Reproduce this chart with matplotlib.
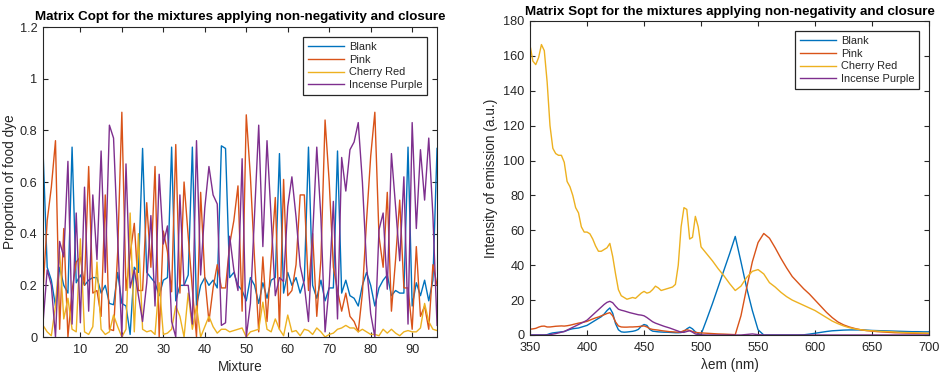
import matplotlib
matplotlib.use("Agg")
import matplotlib.pyplot as plt
import numpy as np

plt.rcParams['font.family'] = ['Liberation Sans', 'DejaVu Sans']

# ---------------- Matrix Copt: proportion of each dye per mixture ----------------
mixture = list(range(1, 97))

blank = [0.72, 0.27, 0.22, 0.12, 0.27, 0.20, 0.17, 0.735, 0.21, 0.24,
         0.20, 0.22, 0.23, 0.23, 0.17, 0.20, 0.13, 0.125, 0.25, 0.13,
         0.12, 0.01, 0.27, 0.25, 0.73, 0.25, 0.23, 0.21, 0.16, 0.22,
         0.23, 0.735, 0.14, 0.20, 0.20, 0.24, 0.735, 0.12, 0.20, 0.23,
         0.20, 0.22, 0.19, 0.74, 0.73, 0.23, 0.25, 0.20, 0.18, 0.14,
         0.23, 0.20, 0.13, 0.21, 0.15, 0.22, 0.23, 0.71, 0.17, 0.25,
         0.20, 0.23, 0.17, 0.22, 0.735, 0.20, 0.15, 0.22, 0.14, 0.19,
         0.19, 0.72, 0.17, 0.22, 0.16, 0.15, 0.12, 0.20, 0.25, 0.20,
         0.12, 0.19, 0.22, 0.24, 0.16, 0.18, 0.17, 0.17, 0.735, 0.12,
         0.21, 0.16, 0.22, 0.14, 0.22, 0.73]

pink = [0.18, 0.45, 0.58, 0.76, 0.03, 0.42, 0.00, 0.18, 0.29, 0.31,
        0.20, 0.66, 0.17, 0.18, 0.08, 0.55, 0.03, 0.025, 0.33, 0.87,
        0.18, 0.32, 0.44, 0.18, 0.18, 0.52, 0.27, 0.66, 0.00, 0.41,
        0.33, 0.175, 0.745, 0.17, 0.60, 0.39, 0.185, 0.00, 0.56, 0.23,
        0.06, 0.19, 0.28, 0.19, 0.19, 0.36, 0.45, 0.585, 0.10, 0.86,
        0.62, 0.30, 0.02, 0.31, 0.06, 0.30, 0.54, 0.03, 0.61, 0.16,
        0.18, 0.28, 0.55, 0.55, 0.18, 0.40, 0.08, 0.30, 0.84, 0.60,
        0.27, 0.18, 0.10, 0.17, 0.08, 0.06, 0.02, 0.17, 0.45, 0.70,
        0.87, 0.39, 0.27, 0.56, 0.10, 0.30, 0.53, 0.19, 0.19, 0.03,
        0.35, 0.08, 0.12, 0.03, 0.28, 0.20]

cherry_red = [0.045, 0.02, 0.005, 0.12, 0.33, 0.07, 0.15, 0.03, 0.02, 0.38,
              0.02, 0.01, 0.04, 0.29, 0.03, 0.01, 0.02, 0.085, 0.04, 0.00,
              0.03, 0.48, 0.02, 0.40, 0.03, 0.02, 0.025, 0.01, 0.21, 0.01,
              0.015, 0.03, 0.12, 0.08, 0.00, 0.17, 0.03, 0.12, 0.00, 0.04,
              0.08, 0.04, 0.015, 0.03, 0.03, 0.02, 0.025, 0.03, 0.035, 0.00,
              0.02, 0.025, 0.03, 0.135, 0.03, 0.02, 0.07, 0.03, 0.005, 0.085,
              0.02, 0.025, 0.005, 0.03, 0.025, 0.01, 0.035, 0.02, 0.00, 0.01,
              0.015, 0.03, 0.035, 0.045, 0.035, 0.035, 0.02, 0.03, 0.02, 0.01,
              0.01, 0.005, 0.03, 0.015, 0.03, 0.015, 0.005, 0.02, 0.025, 0.02,
              0.02, 0.035, 0.13, 0.06, 0.03, 0.025]

incense_purple = [0.055, 0.26, 0.20, 0.00, 0.37, 0.31, 0.68, 0.05, 0.48, 0.055,
                  0.58, 0.10, 0.55, 0.30, 0.72, 0.25, 0.82, 0.77, 0.38, 0.00,
                  0.67, 0.19, 0.26, 0.16, 0.06, 0.21, 0.47, 0.12, 0.63, 0.36,
                  0.43, 0.06, 0.00, 0.55, 0.20, 0.20, 0.05, 0.76, 0.24, 0.50,
                  0.66, 0.55, 0.515, 0.045, 0.055, 0.39, 0.26, 0.18, 0.69, 0.00,
                  0.13, 0.475, 0.82, 0.35, 0.76, 0.46, 0.16, 0.23, 0.215, 0.505,
                  0.62, 0.465, 0.275, 0.20, 0.06, 0.39, 0.735, 0.46, 0.02, 0.20,
                  0.525, 0.07, 0.695, 0.565, 0.725, 0.755, 0.83, 0.60, 0.28, 0.09,
                  0.00, 0.415, 0.48, 0.185, 0.71, 0.505, 0.295, 0.62, 0.05, 0.83,
                  0.42, 0.725, 0.53, 0.77, 0.47, 0.045]

mix_xticks = [10, 20, 30, 40, 50, 60, 70, 80, 90]
prop_yticks = [0, 0.2, 0.4, 0.6, 0.8, 1.0, 1.2]
prop_yticklabels = ['0', '0.2', '0.4', '0.6', '0.8', '1', '1.2']

# ---------------- Matrix Sopt: pure emission spectra ----------------
wavelength = [350, 352.5, 355, 357.5, 360, 362.5, 365, 367.5, 370, 372.5,
              375, 377.5, 380, 382.5, 385, 387.5, 390, 392.5, 395, 397.5,
              400, 402.5, 405, 407.5, 410, 412.5, 415, 417.5, 420, 422.5,
              425, 427.5, 430, 432.5, 435, 437.5, 440, 442.5, 445, 447.5,
              450, 452.5, 455, 457.5, 460, 462.5, 465, 467.5, 470, 472.5,
              475, 477.5, 480, 482.5, 485, 487.5, 490, 492.5, 495, 497.5,
              500, 505, 510, 515, 520, 525, 530, 535, 540, 545,
              550, 555, 560, 565, 570, 575, 580, 585, 590, 595,
              600, 605, 610, 615, 620, 625, 630, 635, 640, 645,
              650, 655, 660, 665, 670, 675, 680, 685, 690, 695, 700]

spec_blank = [0, 0, 0, 0, 0, 0, 0.2, 0.8, 1.2, 1.4,
              1.6, 1.8, 2.0, 2.6, 3.2, 3.6, 3.8, 4.0, 4.5, 5.0,
              5.5, 6.5, 7.5, 8.5, 9.5, 10.5, 12.0, 14.0, 15.5, 12.5,
              6.5, 3.0, 1.8, 1.6, 1.7, 1.9, 2.1, 2.5, 3.2, 5.0,
              6.0, 5.5, 3.2, 2.2, 2.0, 1.8, 1.7, 1.6, 1.6, 1.5,
              1.4, 1.3, 1.3, 1.4, 2.0, 3.5, 4.5, 3.5, 1.8, 0.8,
              0.3, 9.0, 18.0, 27.5, 37.0, 46.5, 56.5, 42.0, 27.0, 14.0,
              3.0, 0, 0, 0, 0, 0, 0, 0, 0.1, 0.5,
              1.0, 1.5, 2.0, 2.4, 2.6, 2.8, 2.9, 2.9, 2.9, 2.8,
              2.6, 2.5, 2.4, 2.3, 2.2, 2.1, 2.0, 1.9, 1.9, 1.8, 1.8]

spec_pink = [3.3, 3.5, 3.8, 4.5, 5.0, 5.1, 4.6, 4.6, 4.8, 5.0,
             5.1, 5.2, 5.1, 5.3, 5.6, 6.0, 6.4, 6.8, 7.1, 7.4,
             7.8, 8.5, 9.2, 9.8, 10.3, 11.0, 11.6, 12.3, 12.8, 11.0,
             7.5, 5.2, 4.6, 4.5, 4.5, 4.6, 4.6, 4.7, 4.8, 5.0,
             5.2, 4.6, 3.6, 3.2, 3.0, 2.8, 2.5, 2.3, 2.1, 1.9,
             1.8, 1.7, 1.6, 1.8, 2.5, 3.0, 2.6, 2.0, 1.5, 1.3,
             1.2, 1.0, 0.8, 0.6, 0.5, 0.35, 0.2, 11.0, 27.0, 42.0,
             53.0, 58.2, 55.5, 50.0, 44.0, 38.5, 33.5, 30.0, 26.5, 23.5,
             20.0, 16.5, 13.0, 10.0, 7.5, 5.8, 4.6, 3.7, 3.0, 2.5,
             2.2, 1.9, 1.7, 1.5, 1.3, 1.2, 1.1, 1.0, 0.9, 0.9, 0.8]

spec_cherry_red = [166.0, 157.0, 155.0, 159.0, 166.5, 163.0, 145.0, 120.0, 107.0, 104.0,
                   103.0, 103.0, 99.0, 88.0, 85.0, 80.0, 73.0, 70.0, 62.0, 59.0,
                   59.0, 58.0, 55.0, 51.0, 48.0, 48.0, 49.0, 50.0, 52.5, 45.0,
                   35.0, 26.0, 22.5, 21.5, 20.5, 21.0, 21.5, 21.0, 22.5, 24.0,
                   25.0, 24.0, 24.5, 26.0, 28.0, 27.0, 25.5, 26.0, 26.5, 27.0,
                   27.5, 29.0, 40.0, 62.0, 73.0, 72.0, 55.0, 56.0, 68.0, 62.0,
                   50.5, 46.5, 42.5, 38.0, 34.0, 29.5, 25.5, 28.0, 33.0, 36.5,
                   37.5, 35.0, 30.0, 27.5, 24.5, 22.0, 20.0, 18.5, 17.0, 15.5,
                   14.0, 12.0, 10.0, 8.0, 6.5, 5.2, 4.2, 3.5, 3.0, 2.6,
                   2.4, 2.2, 2.0, 1.9, 1.7, 1.5, 1.4, 1.3, 1.2, 1.1, 1.0]

spec_incense_purple = [0, 0, 0, 0, 0, 0, 0, 0.2, 0.5, 0.8,
                       1.2, 1.6, 2.0, 2.8, 3.6, 4.4, 5.2, 6.0, 6.8, 7.6,
                       8.5, 10.0, 11.5, 13.0, 14.5, 16.0, 17.5, 18.7, 19.3, 18.5,
                       16.5, 14.8, 14.2, 13.8, 13.3, 12.8, 12.4, 12.0, 11.6, 11.4,
                       11.0, 10.0, 8.8, 7.6, 6.8, 6.2, 5.6, 5.0, 4.5, 4.0,
                       3.4, 2.8, 2.2, 1.6, 1.5, 2.0, 2.4, 1.6, 0.6, 0.2,
                       0.1, 0, 0, 0, 0, 0, 0, 0, 0.3, 0.6,
                       0.2, 0, 0, 0, 0, 0, 0, 0, 0, 0,
                       0, 0, 0, 0, 0, 0, 0, 0, 0, 0,
                       0, 0, 0, 0, 0, 0, 0, 0, 0, 0, 0]

wl_xticks = [350, 400, 450, 500, 550, 600, 650, 700]
em_yticks = [0, 20, 40, 60, 80, 100, 120, 140, 160, 180]

series_names = ['Blank', 'Pink', 'Cherry Red', 'Incense Purple']
colors = ['#0072BD', '#D95319', '#EDB120', '#7E2F8E']

AX_COLOR = '#262626'


def style_axes(ax):
    for sp in ax.spines.values():
        sp.set_color(AX_COLOR)
        sp.set_linewidth(0.8)
    ax.tick_params(direction='in', top=True, right=True, length=3.5,
                   width=0.8, color=AX_COLOR, labelcolor=AX_COLOR,
                   labelsize=9.2)
    ax.tick_params(axis='x', pad=5)
    ax.tick_params(axis='y', pad=4)


def add_legend(ax):
    leg = ax.legend(loc='upper right', bbox_to_anchor=(0.975, 0.968),
                    borderaxespad=0, fontsize=7.9, handlelength=3.3,
                    handletextpad=0.4, labelspacing=0.25, borderpad=0.45,
                    fancybox=False, framealpha=1, edgecolor=AX_COLOR)
    leg.get_frame().set_linewidth(0.9)
    for t in leg.get_texts():
        t.set_color(AX_COLOR)


fig = plt.figure(figsize=(9.46, 3.75), dpi=100)

# Left panel: concentration profiles
ax1 = fig.add_axes([0.0455, 0.1013, 0.4165, 0.8267])
for vals, name, c in zip([blank, pink, cherry_red, incense_purple], series_names, colors):
    ax1.plot(mixture, vals, color=c, lw=1.0, label=name)
ax1.set_xlim(1, 96)
ax1.set_ylim(0, 1.2)
ax1.set_xticks(mix_xticks)
ax1.set_yticks(prop_yticks)
ax1.set_yticklabels(prop_yticklabels)
style_axes(ax1)
ax1.set_xlabel('Mixture', fontsize=9.8, color=AX_COLOR, labelpad=3)
ax1.set_ylabel('Proportion of food dye', fontsize=9.8, color=AX_COLOR, labelpad=2)
ax1.set_title('Matrix Copt for the mixtures applying non-negativity and closure',
              fontsize=9.6, fontweight='bold', pad=5)
add_legend(ax1)

# Right panel: emission spectra
ax2 = fig.add_axes([0.5603, 0.1067, 0.4218, 0.8373])
for vals, name, c in zip([spec_blank, spec_pink, spec_cherry_red, spec_incense_purple],
                         series_names, colors):
    ax2.plot(wavelength, vals, color=c, lw=1.0, label=name)
ax2.set_xlim(350, 700)
ax2.set_ylim(0, 180)
ax2.set_xticks(wl_xticks)
ax2.set_yticks(em_yticks)
style_axes(ax2)
ax2.set_xlabel('\u03bbem (nm)', fontsize=9.8, color=AX_COLOR, labelpad=3)
ax2.set_ylabel('Intensity of emission (a.u.)', fontsize=9.8, color=AX_COLOR, labelpad=4)
ax2.set_title('Matrix Sopt for the mixtures applying non-negativity and closure',
              fontsize=9.6, fontweight='bold', pad=4)
add_legend(ax2)

fig.savefig('out.png', dpi=100)
